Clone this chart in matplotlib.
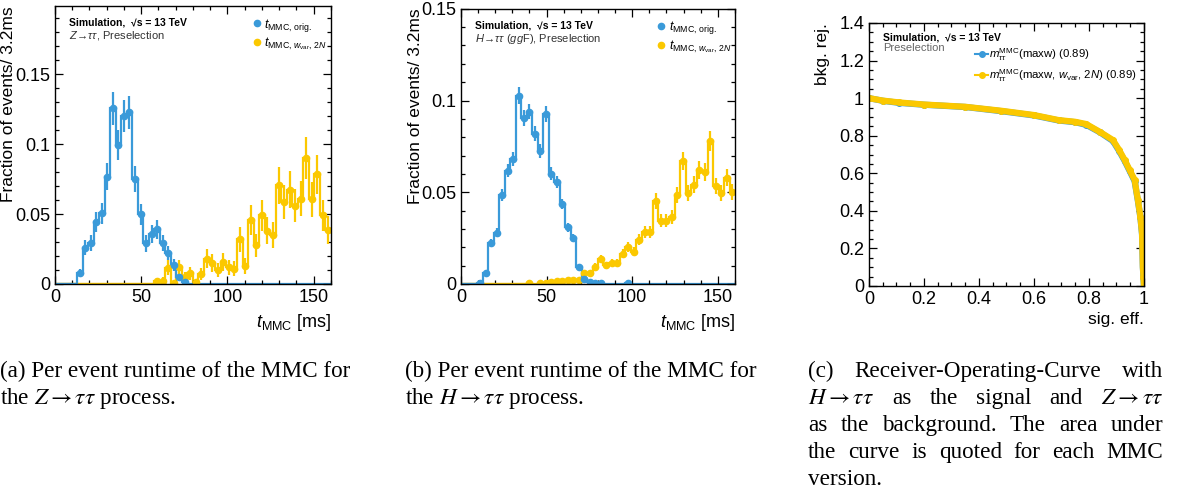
"""Recreation of MMC runtime histograms and ROC curve"""

import numpy as np
import matplotlib
matplotlib.use('Agg')
from matplotlib import pyplot as plt
from matplotlib.lines import Line2D
from matplotlib.ticker import MultipleLocator, FuncFormatter

plt.rcParams['font.family'] = ['Liberation Sans', 'DejaVu Sans']
plt.rcParams['mathtext.fontset'] = 'custom'
plt.rcParams['mathtext.rm'] = 'Liberation Sans'
plt.rcParams['mathtext.it'] = 'Liberation Sans:italic'
plt.rcParams['mathtext.bf'] = 'Liberation Sans:bold'

# --- data -------------------------------------------------------------
n_bins = 50
bin_width = 3.2  # ms

# Z -> tautau, original MMC (bins 4..23)
z_orig_start = 4
z_orig = [0.008, 0.026, 0.0295, 0.0445, 0.0505, 0.0767, 0.1255, 0.099, 0.12,
          0.1226, 0.0748, 0.0498, 0.029, 0.0357, 0.039, 0.0295, 0.022, 0.0136,
          0.005, 0.0017]
z_orig_err = [0.003, 0.0055, 0.0058, 0.0072, 0.0076, 0.0094, 0.012, 0.0107,
              0.0117, 0.0119, 0.0093, 0.0076, 0.0058, 0.0064, 0.0067, 0.0058,
              0.005, 0.004, 0.0024, 0.0014]

# Z -> tautau, w_var 2N MMC (bins 18..49)
z_var_start = 18
z_var = [0.002, 0.0024, 0.0117, 0.0004, 0.012, 0.005, 0.0076, 0.0017, 0.007,
         0.018, 0.015, 0.01, 0.0157, 0.012, 0.011, 0.032, 0.013, 0.046, 0.0276,
         0.049, 0.038, 0.035, 0.0705, 0.0586, 0.0674, 0.056, 0.061, 0.0898,
         0.0605, 0.0783, 0.049, 0.0386]
z_var_err = [0.0022, 0.0024, 0.0054, 0.001, 0.0055, 0.0035, 0.0044, 0.0021,
             0.0042, 0.0067, 0.0061, 0.005, 0.0063, 0.0055, 0.0052, 0.0089,
             0.0057, 0.0107, 0.0083, 0.011, 0.0097, 0.0094, 0.0133, 0.0121,
             0.013, 0.0118, 0.0123, 0.015, 0.0123, 0.014, 0.011, 0.0098]

# H -> tautau, original MMC (bins 3..30)
h_orig_start = 3
h_orig = [0.0005, 0.0058, 0.0222, 0.028, 0.0485, 0.0618, 0.068, 0.1027, 0.0904,
          0.094, 0.082, 0.0725, 0.0925, 0.06, 0.0556, 0.0435, 0.031, 0.025,
          0.009, 0.0025, 0.0009, 0.0007, 0.0003, 0.0, 0.0, 0.0, 0.0, 0.0003]
h_orig_err = [0.0003, 0.0011, 0.0021, 0.0024, 0.0031, 0.0035, 0.0037, 0.0045,
              0.0043, 0.0043, 0.004, 0.0038, 0.0043, 0.0035, 0.0033, 0.0029,
              0.0025, 0.0022, 0.0013, 0.0007, 0.0004, 0.0004, 0.0002, 0.0, 0.0,
              0.0, 0.0, 0.0002]

# H -> tautau, w_var 2N MMC (bins 12..49)
h_var_start = 12
h_var = [0.0003, 0.0, 0.0003, 0.0008, 0.0012, 0.0015, 0.0016, 0.0022, 0.0024,
         0.0024, 0.006, 0.006, 0.0095, 0.0135, 0.0102, 0.0113, 0.0113, 0.0164,
         0.02, 0.0176, 0.0242, 0.0284, 0.0282, 0.0453, 0.0344, 0.0344, 0.0364,
         0.0485, 0.067, 0.0498, 0.054, 0.062, 0.061, 0.078, 0.0535, 0.0495,
         0.058, 0.05]
h_var_err = [0.0003, 0.0, 0.0003, 0.0006, 0.0007, 0.0008, 0.0008, 0.0009, 0.001,
             0.001, 0.0015, 0.0015, 0.0019, 0.0023, 0.002, 0.0021, 0.0021,
             0.0025, 0.0028, 0.0026, 0.003, 0.0033, 0.0033, 0.0042, 0.0036,
             0.0036, 0.0037, 0.0043, 0.0051, 0.0044, 0.0046, 0.0049, 0.0048,
             0.0055, 0.0045, 0.0044, 0.0047, 0.0044]

# ROC curves (signal efficiency, background rejection)
roc_eff = [0.0, 0.05, 0.11, 0.2, 0.35, 0.48, 0.6, 0.69, 0.75, 0.79, 0.84, 0.887,
           0.91, 0.93, 0.948, 0.966, 0.978, 0.987, 0.993, 0.996, 0.998, 1.0]
roc_rej_orig = [1.0, 0.986, 0.975, 0.965, 0.953, 0.931, 0.908, 0.881, 0.872,
                0.858, 0.818, 0.772, 0.718, 0.665, 0.612, 0.558, 0.452, 0.365,
                0.275, 0.1, 0.05, 0.0]
roc_rej_var = [1.0, 0.987, 0.977, 0.966, 0.954, 0.933, 0.91, 0.883, 0.874,
               0.862, 0.82, 0.777, 0.723, 0.67, 0.617, 0.564, 0.457, 0.369,
               0.28, 0.103, 0.05, 0.0]

blue = '#3a9ad9'
yellow = '#fbc800'

edges = np.arange(n_bins + 1) * bin_width
centers = edges[:-1] + bin_width / 2


def full(vals, start):
    arr = np.zeros(n_bins)
    arr[start:start + len(vals)] = vals
    return arr


def draw_hist(ax, vals, errs, start, color):
    v = full(vals, start)
    e = full(errs, start)
    ax.stairs(v, edges, color=color, lw=1.6, baseline=None)
    ax.plot([edges[0], edges[start]], [0, 0], color=color, lw=1.6)
    m = v > 0
    ax.errorbar(centers[m], v[m], yerr=e[m], fmt='o', color=color, ms=4.5,
                elinewidth=1.6, capsize=0)


def style_axes(ax):
    ax.tick_params(which='both', direction='in', top=True, right=True,
                   labelsize=13)
    ax.tick_params(which='major', length=6, width=0.9)
    ax.tick_params(which='minor', length=3, width=0.9)
    for s in ax.spines.values():
        s.set_linewidth(1.0)
    fmt = FuncFormatter(lambda v, p: f'{v:g}')
    ax.xaxis.set_major_formatter(fmt)
    ax.yaxis.set_major_formatter(fmt)


fig = plt.figure(figsize=(11.79, 5.0), dpi=100)

hist_panels = [
    ([0.0466, 0.432, 0.2341, 0.556], 0.1986,
     (z_orig, z_orig_err, z_orig_start), (z_var, z_var_err, z_var_start),
     r'$Z\!\rightarrow\!\tau\tau$, Preselection'),
    ([0.391, 0.432, 0.2324, 0.5505], 0.15,
     (h_orig, h_orig_err, h_orig_start), (h_var, h_var_err, h_var_start),
     r'$H\!\rightarrow\!\tau\tau$ ($gg$F), Preselection'),
]

sim_label = 'Simulation,  \u221as = 13 TeV'

for rect, ytop, s_orig, s_var, proc in hist_panels:
    ax = fig.add_axes(rect)
    draw_hist(ax, *s_var, yellow)
    draw_hist(ax, *s_orig, blue)
    ax.set_xlim(0, 160)
    ax.set_ylim(0, ytop)
    ax.xaxis.set_major_locator(MultipleLocator(50))
    ax.xaxis.set_minor_locator(MultipleLocator(10))
    ax.yaxis.set_major_locator(MultipleLocator(0.05))
    ax.yaxis.set_minor_locator(MultipleLocator(0.01))
    style_axes(ax)
    ax.set_ylabel('Fraction of events/ 3.2ms', fontsize=12.5, ha='right')
    ax.yaxis.set_label_coords(-0.14, 1.0)
    ax.set_xlabel(r'$t_{\mathrm{MMC}}$ [ms]', fontsize=13, ha='right')
    ax.xaxis.set_label_coords(1.0, -0.1)
    ax.text(0.05, 0.957, sim_label, transform=ax.transAxes, fontsize=7.5,
            weight='bold', va='top')
    ax.text(0.05, 0.917, proc, transform=ax.transAxes, fontsize=8,
            va='top', color='#333333')
    handles = [Line2D([], [], marker='o', ls='none', color=blue, ms=4.5),
               Line2D([], [], marker='o', ls='none', color=yellow, ms=4.5)]
    labels = [r'$t_{\mathrm{MMC,\,orig.}}$',
              r'$t_{\mathrm{MMC},\,w_{\mathrm{var}},\,2N}$']
    ax.legend(handles, labels, loc='upper left', bbox_to_anchor=(0.685, 0.98),
              frameon=False, fontsize=9, handletextpad=0.0,
              labelspacing=0.15, handlelength=1.2, borderaxespad=0)

# ROC panel
ax = fig.add_axes([0.737, 0.428, 0.2333, 0.526])
ax.plot(roc_eff, roc_rej_orig, color=blue, lw=4.5, marker='o', ms=4)
ax.plot(roc_eff, roc_rej_var, color=yellow, lw=4.5, marker='o', ms=4)
ax.set_xlim(0, 1)
ax.set_ylim(0, 1.4)
ax.xaxis.set_major_locator(MultipleLocator(0.2))
ax.xaxis.set_minor_locator(MultipleLocator(0.05))
ax.yaxis.set_major_locator(MultipleLocator(0.2))
ax.yaxis.set_minor_locator(MultipleLocator(0.05))
style_axes(ax)
ax.set_ylabel('bkg. rej.', fontsize=12.5, ha='right')
ax.yaxis.set_label_coords(-0.142, 1.0)
ax.set_xlabel('sig. eff.', fontsize=12.5, ha='right')
ax.xaxis.set_label_coords(1.0, -0.1)
ax.text(0.05, 0.965, sim_label, transform=ax.transAxes, fontsize=7.5,
        weight='bold', va='top')
ax.text(0.05, 0.925, 'Preselection', transform=ax.transAxes, fontsize=8,
        va='top', color='#666666')
handles = [Line2D([], [], marker='o', lw=1.5, color=blue, ms=4),
           Line2D([], [], marker='o', lw=1.5, color=yellow, ms=4)]
labels = [r'$m_{\tau\tau}^{\mathrm{MMC}}$(maxw) (0.89)',
          r'$m_{\tau\tau}^{\mathrm{MMC}}$(maxw, $w_{\mathrm{var}}$, $2N$) (0.89)']
ax.legend(handles, labels, loc='upper left', bbox_to_anchor=(0.37, 0.93),
          frameon=False, fontsize=8.2, handletextpad=0.15, labelspacing=0.35,
          handlelength=1.1, borderaxespad=0)

# captions
cap = dict(fontsize=16.7, family=['Liberation Serif', 'DejaVu Serif'],
           math_fontfamily='stix', va='center')
fig.text(0.0, 0.257, '(a) Per event runtime of the MMC for', **cap)
fig.text(0.0, 0.203, r'the $Z \rightarrow \tau\tau$ process.', **cap)
fig.text(0.3435, 0.257, '(b) Per event runtime of the MMC for', **cap)
fig.text(0.3435, 0.203, r'the $H \rightarrow \tau\tau$ process.', **cap)

# caption (c) is justified between these two x positions
c_left, c_right = 0.6855, 0.9865
c_lines = ['(c) Receiver-Operating-Curve with',
           r'$H \rightarrow \tau\tau$ as the signal and $Z \rightarrow \tau\tau$',
           'as the background.  The area under',
           'the curve is quoted for each MMC',
           'version.']
c_words = [['(c)', 'Receiver-Operating-Curve', 'with'],
           [r'$H \rightarrow \tau\tau$', 'as', 'the', 'signal', 'and',
            r'$Z \rightarrow \tau\tau$'],
           ['as', 'the', 'background.', 'The', 'area', 'under'],
           ['the', 'curve', 'is', 'quoted', 'for', 'each', 'MMC'],
           ['version.']]
renderer = fig.canvas.get_renderer()
for i, words in enumerate(c_words):
    y = 0.257 - i * 0.054
    if i == len(c_words) - 1:
        fig.text(c_left, y, c_lines[i], **cap)
        continue
    texts = [fig.text(0, y, w, **cap) for w in words]
    widths = [t.get_window_extent(renderer).width / fig.bbox.width
              for t in texts]
    gap = (c_right - c_left - sum(widths)) / (len(words) - 1)
    x = c_left
    for t, w in zip(texts, widths):
        t.set_x(x)
        x += w + gap

fig.savefig('out.png', dpi=100)
